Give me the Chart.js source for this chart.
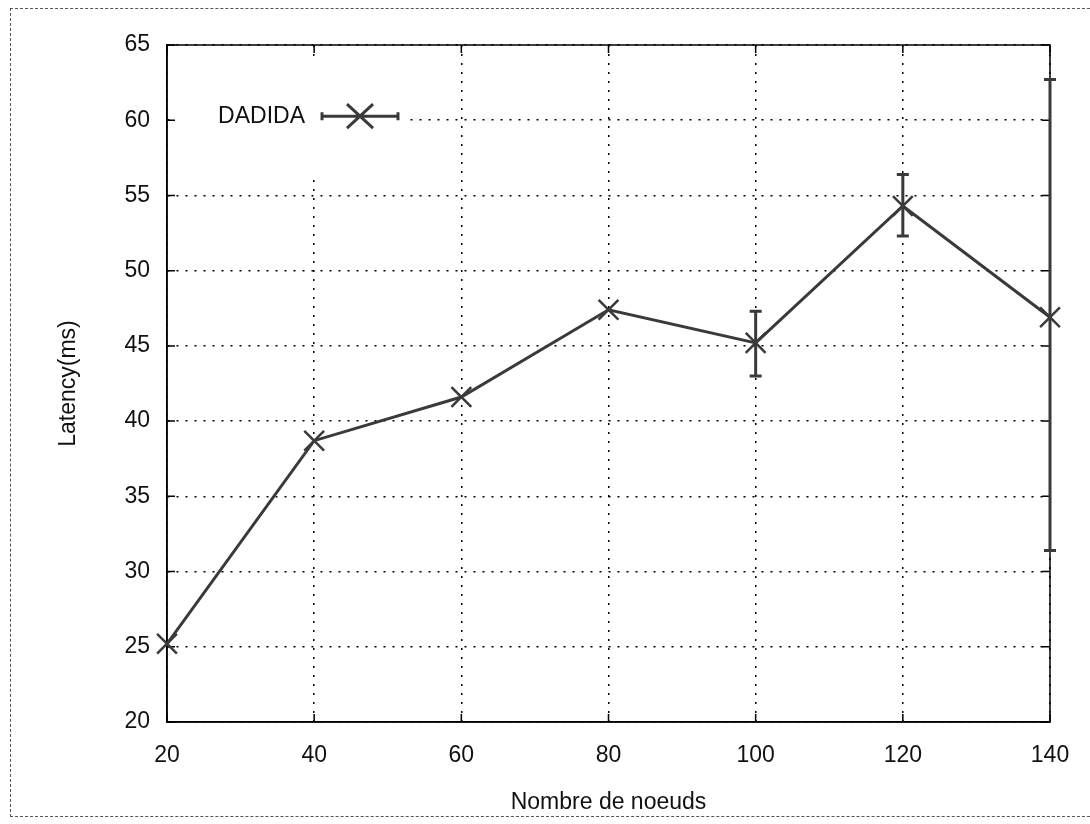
<!DOCTYPE html>
<html>
<head>
<meta charset="utf-8">
<script src="https://cdn.jsdelivr.net/npm/chart.js@4/dist/chart.umd.min.js"></script>
<style>
  html, body { margin: 0; padding: 0; background: #fff; }
  #wrap { position: relative; width: 1090px; height: 824px; }
  #frame { position: absolute; left: 10px; top: 8px; width: 1100px; height: 809px; border: 1px dashed #555; box-sizing: border-box; }
  canvas { position: absolute; left: 0; top: 0; }
</style>
</head>
<body>
<div id="wrap">
  <div id="frame"></div>
  <canvas id="chart" width="1090" height="824"></canvas>
</div>
<script>
// nombre de noeuds
const nodes = [20, 40, 60, 80, 100, 120, 140];
// latence moyenne (ms)
const latency = [25.2, 38.7, 41.6, 47.4, 45.2, 54.3, 46.9];
// barres d'erreur (null = pas visible)
const errLow = [null, null, null, null, 43.0, 52.3, 31.4];
const errHigh = [null, null, null, null, 47.3, 56.4, 62.7];

const yTicks = [20, 25, 30, 35, 40, 45, 50, 55, 60, 65];
const xTicks = [20, 40, 60, 80, 100, 120, 140];

const lineColor = '#3a3a3a';
const font = { family: 'Liberation Sans, Arial, sans-serif', size: 23 };

// barres d'erreur + légende + petites graduations intérieures (style gnuplot)
const gnuplotBits = {
  id: 'gnuplotBits',
  beforeDatasetsDraw(chart) {
    const ctx = chart.ctx;
    const x = chart.scales.x;
    const y = chart.scales.y;
    const area = chart.chartArea;
    ctx.save();
    ctx.setLineDash([]);

    // fond blanc de la légende (cache la grille)
    ctx.fillStyle = '#fff';
    ctx.fillRect(area.left + 6, area.top + 14, 236, 120);

    // cadre
    ctx.strokeStyle = '#000';
    ctx.lineWidth = 1.5;
    ctx.strokeRect(area.left, area.top, area.right - area.left, area.bottom - area.top);

    // graduations vers l'intérieur
    ctx.beginPath();
    for (const v of yTicks) {
      const py = y.getPixelForValue(v);
      ctx.moveTo(area.left, py); ctx.lineTo(area.left + 8, py);
      ctx.moveTo(area.right, py); ctx.lineTo(area.right - 8, py);
    }
    for (const v of xTicks) {
      const px = x.getPixelForValue(v);
      ctx.moveTo(px, area.bottom); ctx.lineTo(px, area.bottom - 8);
      ctx.moveTo(px, area.top); ctx.lineTo(px, area.top + 8);
    }
    ctx.stroke();
    ctx.restore();
  },
  afterDatasetsDraw(chart) {
    const ctx = chart.ctx;
    const x = chart.scales.x;
    const y = chart.scales.y;
    ctx.save();
    ctx.setLineDash([]);

    // barres d'erreur
    ctx.strokeStyle = lineColor;
    ctx.lineWidth = 3;
    for (let i = 0; i < nodes.length; i++) {
      if (errLow[i] === null) continue;
      const px = x.getPixelForValue(nodes[i]);
      const lo = y.getPixelForValue(errLow[i]);
      const hi = y.getPixelForValue(errHigh[i]);
      ctx.beginPath();
      ctx.moveTo(px, lo); ctx.lineTo(px, hi);
      ctx.moveTo(px - 6, lo); ctx.lineTo(px + 6, lo);
      ctx.moveTo(px - 6, hi); ctx.lineTo(px + 6, hi);
      ctx.stroke();
    }

    // légende
    const ly = y.getPixelForValue(60) - 4;
    ctx.fillStyle = '#111';
    ctx.font = font.size + 'px ' + font.family;
    ctx.textAlign = 'right';
    ctx.textBaseline = 'middle';
    ctx.fillText('DADIDA', 305, ly);
    ctx.strokeStyle = lineColor;
    ctx.lineWidth = 3;
    ctx.beginPath();
    ctx.moveTo(322, ly); ctx.lineTo(398, ly);
    ctx.moveTo(322, ly - 4); ctx.lineTo(322, ly + 4);
    ctx.moveTo(398, ly - 4); ctx.lineTo(398, ly + 4);
    ctx.moveTo(360 - 13, ly - 12); ctx.lineTo(360 + 13, ly + 12);
    ctx.moveTo(360 - 13, ly + 12); ctx.lineTo(360 + 13, ly - 12);
    ctx.stroke();
    ctx.restore();
  }
};

new Chart(document.getElementById('chart'), {
  type: 'line',
  data: {
    datasets: [{
      label: 'DADIDA',
      data: nodes.map((n, i) => ({ x: n, y: latency[i] })),
      borderColor: lineColor,
      borderWidth: 3,
      pointStyle: 'crossRot',
      pointRadius: 14,
      pointBorderWidth: 2.5,
      pointBorderColor: lineColor,
      tension: 0,
      fill: false,
      clip: false
    }]
  },
  options: {
    responsive: false,
    animation: false,
    layout: { padding: { left: 0, top: 45, right: 40, bottom: 0 } },
    plugins: { legend: { display: false }, tooltip: { enabled: false } },
    scales: {
      x: {
        type: 'linear',
        min: 20, max: 140,
        afterBuildTicks(scale) { scale.ticks = xTicks.map(v => ({ value: v })); },
        afterFit(scale) { scale.height = 102; },
        grid: { color: '#000', lineWidth: 1.5, drawTicks: false },
        border: { display: true, color: '#000', width: 1.5, dash: [2, 7] },
        ticks: { color: '#111', font: font, padding: 20, maxRotation: 0 },
        title: { display: true, text: 'Nombre de noeuds', color: '#111', font: font, padding: { top: 0, bottom: 8 } }
      },
      y: {
        min: 20, max: 65,
        afterBuildTicks(scale) { scale.ticks = yTicks.map(v => ({ value: v })); },
        afterFit(scale) { scale.width = 167; },
        grid: { color: '#000', lineWidth: 1.5, drawTicks: false },
        border: { display: true, color: '#000', width: 1.5, dash: [2, 7] },
        ticks: { color: '#111', font: font, padding: 17 },
        title: { display: true, text: 'Latency(ms)', color: '#111', font: font, padding: { top: 55, bottom: 0 } }
      }
    }
  },
  plugins: [gnuplotBits]
});
</script>
</body>
</html>
